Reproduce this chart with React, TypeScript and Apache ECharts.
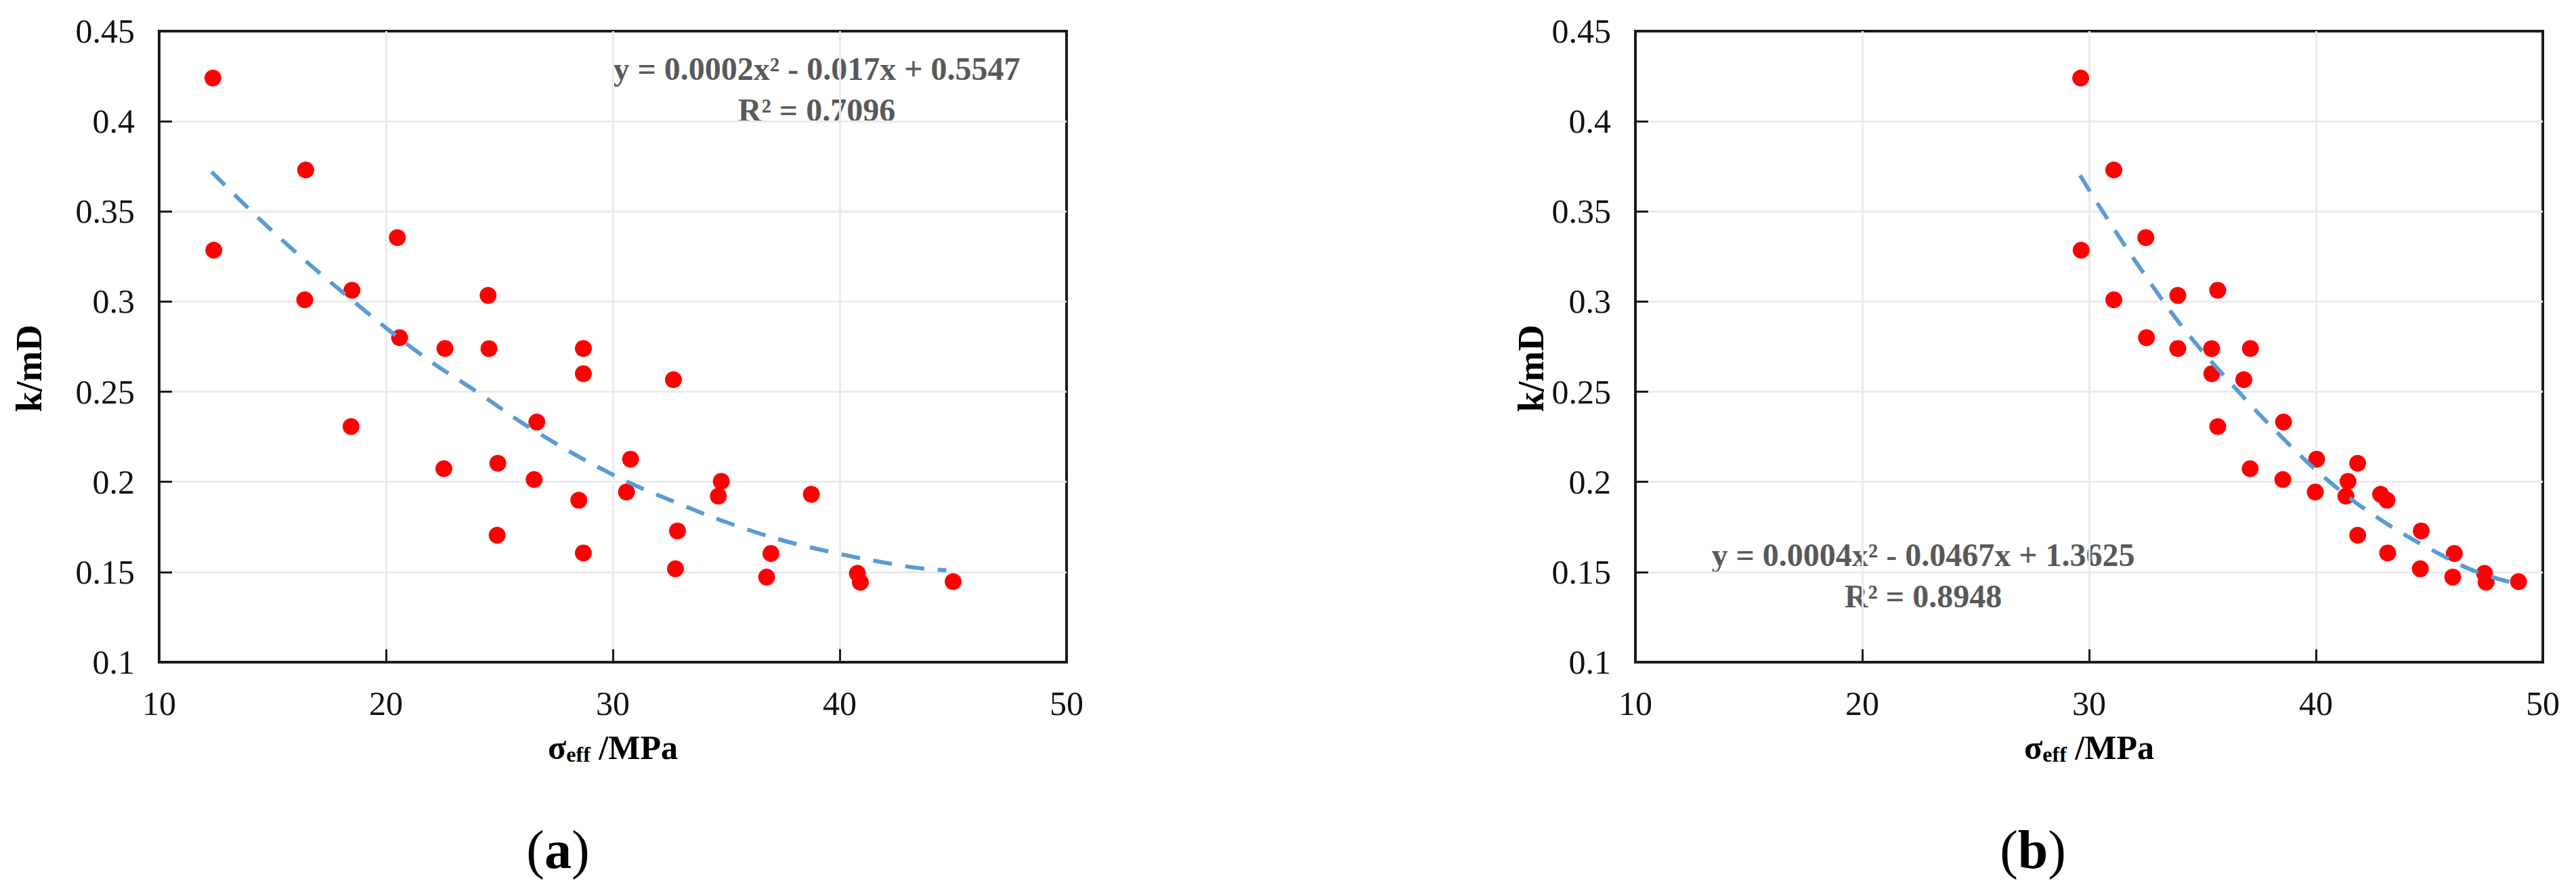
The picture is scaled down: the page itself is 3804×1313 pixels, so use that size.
import React, { useEffect, useRef } from "react";
import * as echarts from "echarts";

// Permeability k (mD) of each sample, shared by both panels
const permeability = [
  0.424, 0.3285, 0.373, 0.301, 0.3063, 0.2307, 0.3355, 0.28, 0.274, 0.2073, 0.3034,
  0.2739, 0.2103, 0.1704, 0.2332, 0.2013, 0.274, 0.26, 0.1898, 0.1606, 0.2126, 0.1944,
  0.2567, 0.1728, 0.1518, 0.2003, 0.1921, 0.1603, 0.1472, 0.1931, 0.1493, 0.1443, 0.1447,
];
// Effective stress (MPa), panel (a)
const sigmaA = [
  12.37, 12.41, 16.46, 16.42, 18.5, 18.46, 20.5, 20.6, 22.6, 22.55, 24.5,
  24.54, 24.93, 24.9, 26.65, 26.53, 28.7, 28.7, 28.5, 28.7, 30.78, 30.6,
  32.67, 32.85, 32.76, 34.78, 34.65, 36.97, 36.78, 38.75, 40.78, 40.91, 45.0,
];
// Effective stress (MPa), panel (b)
const sigmaB = [
  29.63, 29.65, 31.09, 31.09, 35.67, 35.67, 32.5, 32.53, 33.91, 37.1, 33.91,
  35.4, 41.84, 41.84, 38.57, 38.54, 37.11, 35.41, 43.13, 43.16, 40.03, 39.97,
  36.82, 44.64, 44.6, 41.41, 41.32, 46.1, 46.03, 42.85, 47.43, 47.5, 48.93,
];
// Trendline points
const trendAX = [12.31, 15, 18.2, 21.5, 24, 26.6, 30, 32.7, 35.6, 38.6, 43, 44.7];
const trendAY = [0.372, 0.339, 0.304, 0.271, 0.25, 0.228, 0.204, 0.189, 0.175, 0.164, 0.153, 0.151];
const trendBX = [29.6, 30.8, 32.5, 34.3, 36.3, 38.4, 40.7, 43.1, 45.75, 47.1, 48.7];
const trendBY = [0.37, 0.346, 0.314, 0.283, 0.254, 0.226, 0.199, 0.177, 0.158, 0.15, 0.144];

const xTicks = { min: 10, max: 50, interval: 10 };
const yTicks = { min: 0.1, max: 0.45, interval: 0.05 };

const eqA = "y = 0.0002x² - 0.017x + 0.5547\nR² = 0.7096";
const eqB = "y = 0.0004x² - 0.0467x + 1.3625\nR² = 0.8948";

const FONT = "'Liberation Serif', 'Times New Roman', serif";

function zip(xs: number[], ys: number[]) {
  return xs.map((x, i) => [x, ys[i]]);
}

export default function App() {
  const ref = useRef<HTMLDivElement>(null);

  useEffect(() => {
    if (!ref.current) return;
    const chart = echarts.init(ref.current, undefined, { renderer: "svg" });

    const axisColor = "#1a1a1a";
    const gridColor = "#ebebeb";

    const xAxisBase = (gridIndex: number) => ({
      gridIndex,
      type: "value",
      ...xTicks,
      axisLine: { show: true, onZero: false, lineStyle: { color: axisColor, width: 4 } },
      axisTick: { show: true, inside: true, length: 19, lineStyle: { color: axisColor, width: 3 } },
      axisLabel: { fontFamily: FONT, fontSize: 50, color: "#111", margin: 36 },
      splitLine: {
        show: true,
        showMinLine: false,
        showMaxLine: false,
        lineStyle: { color: gridColor, width: 3 },
      },
      name: "{s|σ}{sub|eff}{n| /MPa}",
      nameLocation: "middle",
      nameGap: 100,
      nameTextStyle: {
        rich: {
          s: { fontFamily: FONT, fontSize: 50, fontWeight: "bold", color: "#000", lineHeight: 52 },
          sub: {
            fontFamily: FONT,
            fontSize: 32,
            fontWeight: "bold",
            color: "#000",
            lineHeight: 22,
            verticalAlign: "bottom",
          },
          n: { fontFamily: FONT, fontSize: 50, fontWeight: "bold", color: "#000", lineHeight: 52 },
        },
      },
    });

    const yAxisBase = (gridIndex: number, nameGap: number) => ({
      gridIndex,
      type: "value",
      ...yTicks,
      axisLine: { show: true, onZero: false, lineStyle: { color: axisColor, width: 4 } },
      axisTick: { show: true, inside: true, length: 19, lineStyle: { color: axisColor, width: 3 } },
      axisLabel: {
        fontFamily: FONT,
        fontSize: 50,
        color: "#111",
        margin: 36,
        formatter: (v: number) => String(parseFloat(v.toFixed(2))),
      },
      splitLine: {
        show: true,
        showMinLine: false,
        showMaxLine: false,
        lineStyle: { color: gridColor, width: 3 },
      },
      name: "k/mD",
      nameLocation: "middle",
      nameGap,
      nameTextStyle: {
        fontFamily: FONT,
        fontSize: 54,
        fontWeight: "bold",
        color: "#000",
        padding: [0, 64, 0, 0],
      },
    });

    const scatter = (idx: number, xs: number[]) => ({
      type: "scatter",
      xAxisIndex: idx,
      yAxisIndex: idx,
      data: zip(xs, permeability),
      symbol: "circle",
      symbolSize: 25,
      itemStyle: { color: "#ff0000", opacity: 1 },
      z: 2,
    });

    const trend = (idx: number, xs: number[], ys: number[]) => ({
      type: "line",
      xAxisIndex: idx,
      yAxisIndex: idx,
      data: zip(xs, ys),
      smooth: 0.4,
      showSymbol: false,
      symbol: "none",
      lineStyle: { color: "#5b9bd5", width: 6, type: [28, 20], opacity: 1 },
      z: 3,
    });

    const textStyle = (text: string, x: number, y: number) => ({
      type: "text",
      x,
      y,
      style: {
        text,
        font: `bold 48px ${FONT}`,
        fill: "#595959",
        align: "center",
        textAlign: "center",
        verticalAlign: "middle",
        textVerticalAlign: "middle",
        lineHeight: 61,
      },
    });

    const panelLabel = (letter: string, x: number, y: number) => ({
      type: "text",
      x,
      y,
      style: {
        text: `{p|(}{b|${letter}}{p|)}`,
        rich: {
          p: { fontFamily: FONT, fontSize: 80, color: "#000" },
          b: { fontFamily: FONT, fontSize: 80, fontWeight: "bold", color: "#000" },
        },
        fill: "#000",
        align: "center",
        textAlign: "center",
        verticalAlign: "middle",
        textVerticalAlign: "middle",
      },
    });

    chart.setOption({
      animation: false,
      backgroundColor: "#ffffff",
      grid: [
        { left: 235, top: 46, width: 1340, height: 932, show: true, borderColor: axisColor, borderWidth: 4 },
        { left: 2415, top: 46, width: 1340, height: 932, show: true, borderColor: axisColor, borderWidth: 4 },
      ],
      xAxis: [xAxisBase(0), xAxisBase(1)],
      yAxis: [yAxisBase(0, 165), yAxisBase(1, 102)],
      series: [
        scatter(0, sigmaA),
        trend(0, trendAX, trendAY),
        scatter(1, sigmaB),
        trend(1, trendBX, trendBY),
      ],
      graphic: [
        textStyle(eqA, 1206, 132),
        textStyle(eqB, 2840, 850),
        panelLabel("a", 824, 1255),
        panelLabel("b", 3002, 1255),
      ],
    });

    return () => chart.dispose();
  }, []);

  return (
    <div
      ref={ref}
      style={{ position: "absolute", left: 0, top: 0, width: 3804, height: 1313, background: "#fff" }}
    />
  );
}
